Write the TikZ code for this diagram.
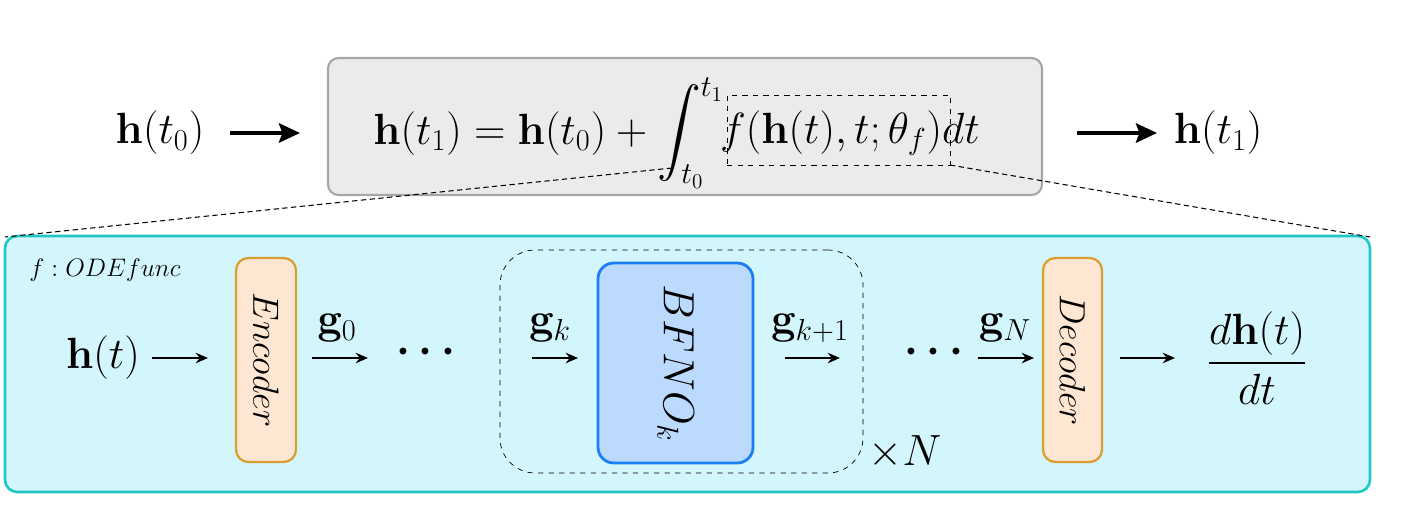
\documentclass[tikz,border=0pt]{standalone}
\usepackage{amsmath,bm}
\usetikzlibrary{arrows.meta}
\begin{document}
\begin{tikzpicture}[x=0.02cm,y=-0.02cm,
  big/.style={font=\fontsize{23}{27}\selectfont},
  mid/.style={font=\fontsize{20}{24}\selectfont},
  thinarr/.style={-{Stealth[length=7pt,width=6pt]},line width=0.8pt},
  thickarr/.style={-{Stealth[length=12pt,width=11pt,inset=2pt]},line width=2.2pt},
  encbox/.style={draw=encline,fill=encfill,line width=1.3pt,rounded corners=7pt},
  blk/.style={draw=blkline,fill=blkfill,line width=1.6pt,rounded corners=9pt}]
\definecolor{cyanfill}{HTML}{D3F5FC}
\definecolor{cyanline}{HTML}{1EC8C8}
\definecolor{grayfill}{HTML}{EBEBEB}
\definecolor{encfill}{HTML}{FDE6D2}
\definecolor{encline}{HTML}{D8A030}
\definecolor{blkfill}{HTML}{BCDAFD}
\definecolor{blkline}{HTML}{1A7FF5}
\useasboundingbox (0,0) rectangle (1412,515);
% top
\node[draw=gray!70,fill=grayfill,line width=1.2pt,rounded corners=6pt,minimum width=714*0.02cm,minimum height=137*0.02cm] (top) at (685,126.5) {};
\node[big] (h0) at (160,133) {$\mathbf{h}(t_0)$};
\node[big] (h1) at (1218,133) {$\mathbf{h}(t_1)$};
\coordinate (a1) at (230,133); \coordinate (a2) at (300,133);
\coordinate (a3) at (1077,133); \coordinate (a4) at (1157,133);
\draw[thickarr] (a1) -- (a2);
\draw[thickarr] (a3) -- (a4);
\node[big,anchor=east,inner sep=0pt] (eq) at (724,133) {$\mathbf{h}(t_1)=\mathbf{h}(t_0)+\displaystyle\int_{t_0}^{t_1}$};
\node[draw,dashed,minimum width=223*0.02cm,minimum height=70*0.02cm,inner sep=0pt] (fb) at (838.5,130) {};
\node[big] (ft) at (850,133) {$f(\mathbf{h}(t),t;\theta_f)dt$};
% cyan box
\node[draw=cyanline,fill=cyanfill,line width=1.5pt,rounded corners=7pt,minimum width=1365*0.02cm,minimum height=256*0.02cm] (cy) at (687.5,364) {};
\coordinate (c1) at (672,168); \coordinate (c2) at (5,237);
\coordinate (c3) at (950,165); \coordinate (c4) at (1370,237);
\draw[densely dashed,line width=0.6pt] (c1) -- (c2);
\draw[densely dashed,line width=0.6pt] (c3) -- (c4);
\node[font=\fontsize{14}{16}\selectfont] (lab) at (105,270) {$f:ODEfunc$};
\node[big] (ht) at (103,358) {$\mathbf{h}(t)$};
\coordinate (b1) at (152,358); \coordinate (b2) at (208,358);
\draw[thinarr] (b1) -- (b2);
\node[encbox,minimum width=60*0.02cm,minimum height=204*0.02cm] (enc) at (266,360) {};
\node[mid,rotate=-90] at (enc) {$Encoder$};
\node[big] (g0) at (337,328) {$\mathbf{g}_0$};
\coordinate (b3) at (312,358); \coordinate (b4) at (368,358);
\draw[thinarr] (b3) -- (b4);
\node[big] (d1) at (430,352) {$\bm{\cdots}$};
\node[draw,dashed,rounded corners=20pt,minimum width=363*0.02cm,minimum height=223*0.02cm] (grp) at (681.5,361.5) {};
\node[big] (gk) at (550,328) {$\mathbf{g}_k$};
\coordinate (b5) at (532,358); \coordinate (b6) at (578,358);
\draw[thinarr] (b5) -- (b6);
\node[blk,minimum width=155*0.02cm,minimum height=200*0.02cm] (bf) at (675.5,363) {};
\node[font=\fontsize{25}{29}\selectfont,rotate=-90] at (bf) {$BFNO_k$};
\node[big] (gk1) at (810,328) {$\mathbf{g}_{k+1}$};
\coordinate (b7) at (785,358); \coordinate (b8) at (840,358);
\draw[thinarr] (b7) -- (b8);
\node[big] (xn) at (905,452) {$\times N$};
\node[big] (d2) at (938,352) {$\bm{\cdots}$};
\node[big] (gn) at (1005,328) {$\mathbf{g}_N$};
\coordinate (b9) at (978,358); \coordinate (b10) at (1034,358);
\draw[thinarr] (b9) -- (b10);
\node[encbox,minimum width=59*0.02cm,minimum height=204*0.02cm] (dec) at (1072.5,360) {};
\node[mid,rotate=-90] at (dec) {$Decoder$};
\coordinate (b11) at (1120,358); \coordinate (b12) at (1175,358);
\draw[thinarr] (b11) -- (b12);
\node[big] (out) at (1257,358) {$\dfrac{d\mathbf{h}(t)}{dt}$};
\end{tikzpicture}
\end{document}
